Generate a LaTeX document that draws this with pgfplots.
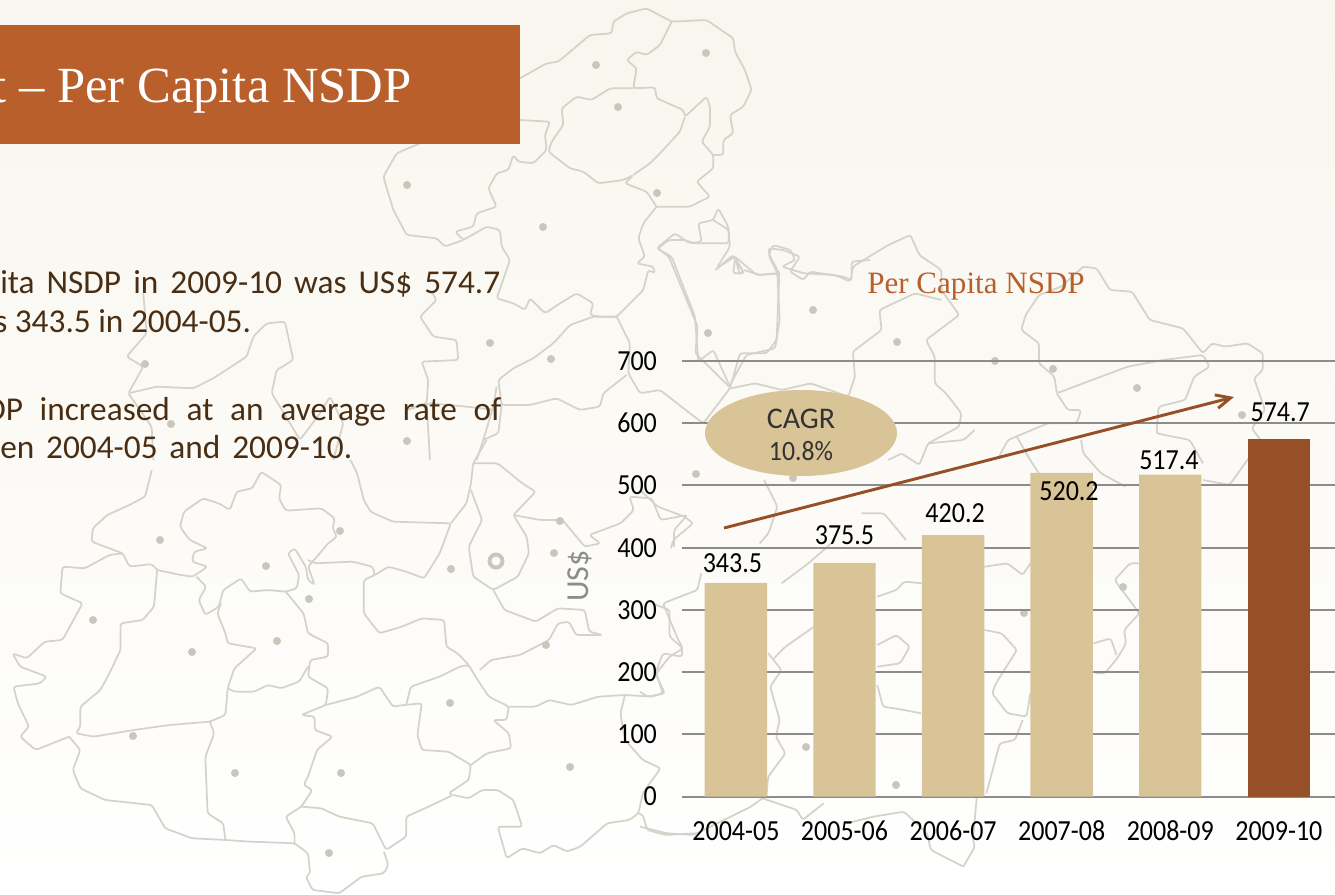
\documentclass[border=0pt]{standalone}
\usepackage{pgfplots}
\pgfplotsset{compat=1.18}
\usepackage{fontspec}
\usetikzlibrary{arrows.meta}
\setmainfont{Carlito}
\newfontfamily\serif{Liberation Serif}
\definecolor{tanc}{HTML}{D9C497}
\definecolor{rust}{HTML}{974F28}
\definecolor{banner}{HTML}{B85F2B}
\definecolor{bodyc}{HTML}{4A2E14}
\definecolor{mapl}{HTML}{D4D2C9}
\definecolor{dotc}{HTML}{C9C6BB}
\definecolor{gridc}{HTML}{8C8C8C}
\definecolor{bgtop}{HTML}{F8F6EE}
\newcommand{\fs}[1]{\fontsize{#1}{#1}\selectfont}
\begin{document}
\begin{tikzpicture}[x=0.75pt,y=-0.75pt]
\path[use as bounding box] (0,0) rectangle (1335,894);
\begin{scope}
\clip (0,0) rectangle (1335,894);
\shade[top color=bgtop,bottom color=white,middle color=bgtop!55!white] (0,0) rectangle (1335,894);
% decorative map background
\begin{scope}[draw=mapl,line width=1.3pt,line join=round,rounded corners=2pt]
\begin{scope}[shift={(0,440)},xscale=0.4464,yscale=0.3333]
\draw (340,90)--(325,170)--(290,195)--(240,225)--(208,265)--(205,305)--(235,320)--(275,340)--(290,380)--(340,372)--(352,390)--(405,405)--(432,410)--(465,380)--(430,365)--(435,335)--(465,325)--(425,300)--(403,260)--(412,215)--(455,175)--(490,190)--(515,210)--(530,155)--(565,145)--(585,95)--(630,135)--(625,175)--(640,212)--(720,205)--(750,235)--(745,265)--(755,290)--(735,310)--(710,350)--(690,380)--(705,435)--(690,420)--(685,380)--(660,325)--(645,340)--(670,405)--(665,445)--(640,455)--(600,450)--(560,455)--(540,415)--(500,450)--(490,500)--(460,525)--(445,480)--(462,440)--(440,410);
\draw (275,340)--(245,345)--(190,385)--(140,380)--(135,460)--(185,490)--(140,600)--(100,605)--(60,655)--(28,640)--(45,680)--(105,710)--(90,730)--(30,740)--(40,790)--(65,860)--(45,890)--(80,930)--(155,890);
\draw (352,390)--(345,500)--(320,540)--(270,550)--(270,630)--(245,700)--(225,750)--(180,800)--(180,860)--(170,880)--(210,890)--(300,870)--(380,855)--(470,845)--(505,825)--(510,745)--(525,685)--(575,625)--(510,610)--(505,580)--(487,520)--(495,490);
\draw (640,455)--(680,520)--(690,580)--(735,610)--(735,650)--(695,660)--(690,710)--(735,745)--(730,795)--(675,825)--(705,830)--(705,870)--(745,890)--(710,930)--(690,1010)--(680,1035)--(700,1050)--(675,1100)--(640,1130)--(660,1180)--(660,1210);
\draw (510,745)--(525,755)--(570,755)--(600,735)--(630,745)--(670,725)--(690,680);
\draw (730,795)--(800,770)--(850,740)--(880,800)--(905,795)--(945,790)--(935,885)--(945,930)--(1005,935)--(1055,975)--(1050,1020)--(1005,1060)--(1015,1065)--(960,1100)--(910,1130)--(910,1190)--(865,1230)--(835,1150)--(760,1130)--(720,1105)--(675,1100);
\draw (470,845)--(480,880)--(460,950)--(465,1120)--(500,1150)--(505,1200);
\draw (155,890)--(180,930)--(163,990)--(180,1045)--(235,1080)--(340,1095)--(370,1165)--(430,1195)--(505,1200)--(560,1205)--(660,1210)--(690,1240)--(695,1300)--(685,1310)--(700,1350)--(760,1360)--(810,1310)--(860,1300)--(870,1275)--(860,1235);
\draw (910,795)--(920,740)--(985,710)--(1030,680)--(1050,675)--(1070,720)--(1095,770)--(1140,800)--(1135,840)--(1105,840)--(1140,880)--(1145,925)--(1090,940)--(1055,975);
\draw (1140,800)--(1200,800)--(1230,780)--(1280,795)--(1340,770)--(1400,765)--(1460,770)--(1485,760)--(1470,700)--(1500,650)--(1530,625)--(1500,590)--(1500,510)--(1460,490);
\draw (1400,765)--(1390,820)--(1400,900)--(1440,960)--(1480,985)--(1450,1040)--(1440,1060)--(1430,1120)--(1410,1140)--(1360,1150)--(1300,1220)--(1270,1235)--(1240,1215)--(1210,1240)--(1170,1225)--(1135,1255)--(1115,1160)--(1170,1160)--(1150,1080)--(1115,1050)--(1080,1050)--(1050,1075)--(1015,1065);
\draw (1430,1120)--(1440,1125)--(1450,1170)--(1490,1185)--(1560,1180);
\draw (1050,675)--(1025,640)--(1000,620)--(995,540)--(945,535)--(900,560)--(850,580)--(815,520)--(815,420)--(840,405)--(835,380)--(790,365)--(705,370)--(690,360);
\draw (840,405)--(870,380)--(910,395)--(950,415)--(985,340)--(1010,250)--(880,245)--(830,215)--(815,180)--(800,100)--(785,60);
\draw (1010,250)--(1045,190)--(1055,130)--(1060,70)--(1090,0);
\draw (1060,70)--(1115,70)--(1170,130)--(1200,155)--(1150,225)--(1180,290)--(1185,340)--(1160,410)--(1105,450)--(1060,410)--(1050,320)--(1080,240)--(1055,150);
\draw (1105,450)--(1130,510)--(1200,545)--(1250,505)--(1310,510)--(1320,575)--(1350,585)--(1290,585)--(1275,545)--(1250,550)--(1230,600)--(1165,645)--(1100,660)--(1075,690);
\draw (1150,225)--(1210,240)--(1260,240)--(1310,320)--(1345,310)--(1320,285)--(1390,250)--(1420,210)--(1410,170)--(1460,175)--(1480,240)--(1540,225)--(1510,270)--(1510,320);
\end{scope}
\begin{scope}[shift={(370,0)},xscale=0.3333,yscale=0.3333]
\draw (450,235)--(530,190)--(565,185)--(660,105)--(725,100)--(730,65)--(770,40)--(830,25)--(905,65)--(1010,60)--(1090,115)--(1095,155)--(1125,210)--(1145,270)--(1120,320)--(1080,345)--(1090,400)--(1060,420)--(1060,465)--(1030,465);
\draw (905,65)--(870,135)--(830,165)--(800,155)--(770,180)--(800,205)--(790,265)--(855,262)--(860,295)--(940,330)--(945,350)--(1010,290)--(1020,320)--(1020,380)--(995,425)--(1030,465)--(1030,505)--(980,545)--(1020,590)--(960,620)--(860,620);
\draw (790,265)--(720,265)--(665,300)--(620,290)--(575,325)--(580,375)--(545,425)--(535,455)--(600,505)--(640,515)--(685,550)--(760,540)--(790,525)--(765,550)--(830,575)--(860,620);
\draw (945,350)--(930,395)--(870,460)--(840,490)--(790,525);
\draw (450,360)--(540,365)--(525,405)--(530,450)--(490,490)--(445,485)--(430,465)--(415,510)--(380,520)--(355,565)--(380,620)--(320,640)--(310,680)--(255,695)--(280,720)--(350,680)--(390,690)--(395,740)--(420,780)--(380,895)--(430,910)--(465,930)--(480,895)--(525,940)--(570,910)--(620,880)--(670,910)--(660,945)--(690,950)--(740,950)--(820,870)--(835,810)--(855,820)--(850,800)--(800,790)--(825,770)--(805,715)--(820,670)--(860,620);
\draw (150,430)--(80,460)--(40,530)--(70,630)--(110,705)--(200,715)--(225,740)--(280,720);
\draw (740,950)--(780,1030)--(775,1120)--(810,1180)--(870,1170)--(960,1240)--(1000,1270)--(1080,1165)--(1110,1060)--(1190,1060)--(1220,1020)--(1228,820)--(1200,770)--(1195,745)--(1240,750)--(1290,770)--(1260,815)--(1300,840)--(1320,815)--(1420,830)--(1445,840)--(1445,785)--(1500,780);
\draw (1228,820)--(1160,825)--(1095,770)--(1040,805)--(1080,740)--(1075,680)--(1045,625)--(1030,660)--(985,670)--(995,725)--(960,730)--(915,700)--(860,745)--(905,770)--(975,950)--(985,1085)--(1030,1050)--(1080,1160);
\draw (1095,770)--(1110,825)--(1120,815)--(1095,775);
\draw (740,950)--(670,950)--(600,975)--(550,1030)--(490,1075)--(430,1105)--(385,1140)--(395,1215)--(480,1215)--(560,1195)--(630,1230)--(690,1220)--(700,1180)--(770,1125);
\draw (395,1215)--(385,1300)--(340,1320);
\end{scope}
\begin{scope}[shift={(0,140)},xscale=0.3333,yscale=0.3333]
\draw (430,460)--(440,580)--(380,650)--(430,680)--(385,760)--(470,740)--(580,745)--(640,715)--(740,650)--(760,590)--(800,550)--(855,545)--(880,660)--(830,690)--(815,760)--(840,800)--(900,900)--(960,820)--(990,770)--(1030,850)--(1000,960);
\draw (385,760)--(455,860)--(460,960);
\draw (1296,459)--(1310,480)--(1260,530)--(1300,590)--(1370,600)--(1375,660)--(1265,665)--(1285,720)--(1280,790)--(1220,810)--(1290,790)--(1400,800)--(1490,810);
\draw (1280,790)--(1290,960);
\draw (1490,740)--(1480,800)--(1450,900)--(1430,960);
\end{scope}
\begin{scope}[shift={(640,220)},xscale=0.4433,yscale=0.3333]
\draw (165,0)--(200,30)--(200,70)--(125,70)--(100,60)--(65,60)--(40,85)--(65,110)--(130,320)--(125,400)--(205,505);
\draw (170,150)--(210,105)--(235,160)--(210,160)--(215,115);
\draw (235,150)--(270,165)--(310,160)--(315,300)--(305,385)--(240,405)--(205,490);
\draw (310,160)--(290,105)--(300,75)--(340,90)--(350,120)--(320,140)--(370,160)--(440,165)--(475,185)--(480,140)--(560,75)--(610,45)--(630,105)--(680,150)--(680,210)--(720,285)--(680,325)--(645,360)--(665,410)--(665,490)--(690,520)--(725,580)--(720,620)--(650,670)--(630,735)--(590,700)--(560,720);
\draw (680,240)--(620,220)--(540,270)--(545,330)--(480,395)--(485,470)--(470,530)--(385,490)--(320,510)--(260,490)--(205,505);
\draw (1000,140)--(1030,145)--(1060,210)--(1110,215)--(1150,300)--(1225,325)--(1270,400)--(1290,370)--(1320,380)--(1370,370)--(1405,400)--(1405,450)--(1385,475)--(1410,570)--(1380,625)--(1400,660)--(1370,720)--(1330,795)--(1270,780);
\draw (1000,140)--(950,200)--(900,225)--(870,285)--(860,330)--(900,370)--(900,430)--(935,470)--(940,520)--(1020,480)--(1100,440)--(1180,420)--(1270,405)--(1285,440)--(1250,470)--(1230,540)--(1170,560)--(1165,640)--(1240,660)--(1270,730);
\draw (940,520)--(965,570)--(995,570)--(985,610)--(920,610)--(830,660)--(810,710);
\draw (995,660)--(1000,700)--(1040,760)--(1095,800);
\draw (755,630)--(730,660)--(650,670);
\draw (280,780)--(310,860)--(290,940)--(270,970);
\draw (0,810)--(40,860)--(100,890)--(120,910)--(75,960)--(70,985);
\draw (500,880)--(550,880)--(600,960);
\draw (850,650)--(880,720)--(900,760);
\end{scope}
\begin{scope}[shift={(640,540)},xscale=0.3827,yscale=0.3333]
\draw (160,100)--(150,150)--(60,190)--(100,300)--(110,320)--(110,350)--(60,340)--(40,400)--(65,460)--(20,470)--(0,455);
\draw (335,340)--(370,390)--(340,440)--(365,540)--(355,590)--(380,640)--(335,710)--(330,770);
\draw (455,260)--(380,320)--(350,355);
\draw (370,130)--(440,70)--(510,0);
\draw (620,170)--(670,150)--(690,125)--(740,130);
\draw (620,315)--(670,285)--(705,320)--(680,370)--(620,380);
\draw (620,435)--(635,500)--(690,510)--(735,520);
\draw (900,80)--(960,70)--(1000,105)--(1020,70);
\draw (900,270)--(945,280)--(985,330)--(930,430)--(920,460)--(960,520)--(1010,530)--(1020,460);
\draw (1000,540)--(980,600)--(940,610)--(905,760);
\draw (880,770)--(870,900)--(875,920)--(845,980);
\draw (320,775)--(410,810)--(425,840)--(480,790);
\draw (540,850)--(610,830)--(690,815)--(750,880)--(760,930)--(845,980);
\draw (0,860)--(70,880)--(140,885)--(290,800)--(320,775);
\draw (1305,70)--(1280,70)--(1240,120)--(1305,220)--(1265,270)--(1270,310)--(1250,350)--(1215,400)--(1190,400);
\draw (1185,310)--(1230,295)--(1245,345);
\end{scope}
\end{scope}
\fill[dotc]
 \foreach \p in {(596,65),(706,53),(618,107),(407,185),(657,193),(543,227),(708,333),(813,310),(897,342),(995,361),(1053,369),(1137,388),(1242,415),(490,343),(551,359),(145,364),(171,424),(407,441),(696,474),(793,478),(340,531),(160,540),(266,566),(451,569),(560,521),(554,553),(309,599),(93,620),(277,641),(192,652),(546,645),(133,736),(450,703),(235,773),(341,773),(570,767),(329,853),(806,747),(896,785),(1024,613),(1123,587)} {\p circle[radius=4]};
\draw[dotc,line width=3pt] (496,561) circle[radius=6.5];
% banner
\fill[banner] (0,25) rectangle (520,144);
\node[anchor=base east,inner sep=0pt,text=white,font=\serif\fs{38}] at (412,102) {t – Per Capita NSDP};
% body text
\begin{scope}[every node/.style={anchor=base west,inner sep=0pt,text=bodyc,font=\fs{25}}]
\node at (0,293) {\hbox to 375pt{ita\hfill NSDP\hfill in\hfill 2009-10\hfill was\hfill US\$\hfill 574.7}};
\node at (-6,332) {s 343.5 in 2004-05.};
\node at (-15,420) {\hbox to 387pt{DP\hfill increased\hfill at\hfill an\hfill average\hfill rate\hfill of}};
\node at (0,458) {\hbox to 264pt{en\hfill 2004-05\hfill and\hfill 2009-10.}};
\end{scope}
\node[anchor=base,inner sep=0pt,text=banner,font=\serif\fs{23.3}] at (976,293) {Per Capita NSDP};
\end{scope}
\begin{axis}[
  at={(511.2pt,-597.375pt)},anchor=south west,
  scale only axis,width=490.3pt,height=326.625pt,
  xmin=-0.5,xmax=5.52,ymin=0,ymax=700,
  xtick={0,1,2,3,4,5},
  xticklabels={2004-05,2005-06,2006-07,2007-08,2008-09,2009-10},
  ytick={0,100,200,300,400,500,600,700},
  ymajorgrids,grid style={gridc,line width=1.5pt},
  axis line style={draw=none},
  major tick length=0pt,
  clip=false,
  /pgf/number format/assume math mode=true,
  tick label style={font=\fs{19.5},text=black,yscale=1.12},
  yticklabel style={xshift=-15pt},
  xticklabel style={yshift=-13pt,text height=13pt,text depth=0pt},
  ylabel={US\$},
  ylabel style={at={(axis description cs:-0.155,0.506)},anchor=center,font=\fs{24},text=gridc},
  ybar,bar width=46.8pt,bar shift=0pt,
  nodes near coords,
  point meta=y,
  nodes near coords style={anchor=center,inner sep=0pt,font=\fs{19.5},text=black,yscale=1.12,
    /pgf/number format/.cd,fixed,fixed zerofill,precision=1,assume math mode=true},
]
\addplot[fill=tanc,draw=none,
  coordinate style/.condition={abs(y-343.5)<0.1}{xshift=-2.6pt,yshift=15pt},
  coordinate style/.condition={abs(y-375.5)<0.1}{yshift=21pt},
  coordinate style/.condition={abs(y-420.2)<0.1}{xshift=1.5pt,yshift=16.5pt},
  coordinate style/.condition={abs(y-520.2)<0.1}{xshift=5.5pt,yshift=-13.5pt},
  coordinate style/.condition={abs(y-517.4)<0.1}{xshift=-1pt,yshift=11pt},
] coordinates {(0,343.5)(1,375.5)(2,420.2)(3,520.2)(4,517.4)};
\addplot[fill=rust,draw=none,
  coordinate style/.condition={abs(y-574.7)<0.1}{xshift=1pt,yshift=20pt},
] coordinates {(5,574.7)};
\end{axis}
\fill[tanc] (801,433) ellipse[x radius=96,y radius=43];
\node[inner sep=0pt,font=\fs{22.5},text=black!80] at (801,419) {CAGR};
\node[inner sep=0pt,font=\fs{21},xscale=.92,text=black!80] at (801,451) {10.8\%};
\draw[-{Straight Barb[length=11pt,width=15pt,angle'=50]},draw=rust,line width=2.2pt] (724,528)--(1234,397);
\end{tikzpicture}
\end{document}
